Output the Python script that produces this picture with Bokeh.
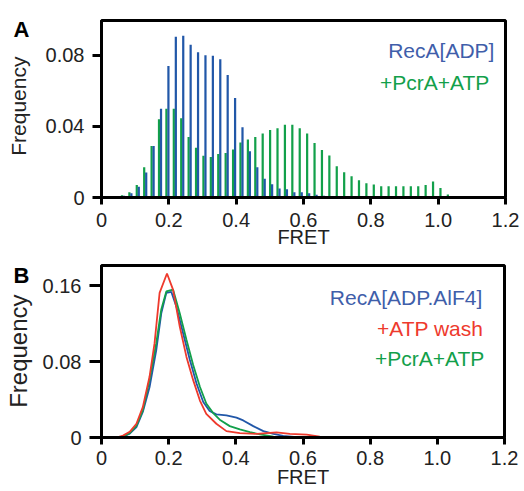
import math
from bokeh.plotting import figure
from bokeh.layouts import column, row
from bokeh.models import Label, FixedTicker, Range1d
from bokeh.embed import file_html
from bokeh.resources import INLINE

# ---------------- Panel A data (histogram) ----------------
bin_start = 0.0418
bin_step = 0.022
green_a = [0.0007, 0.0013, 0.003, 0.007, 0.017, 0.029, 0.044, 0.050, 0.050, 0.0446,
           0.034, 0.028, 0.0235, 0.0228, 0.0245, 0.025, 0.027, 0.031, 0.0327, 0.034,
           0.036, 0.038, 0.039, 0.041, 0.041, 0.039, 0.036, 0.0307, 0.0267, 0.0236,
           0.0176, 0.0142, 0.012, 0.0097, 0.008, 0.0073, 0.0064, 0.0064, 0.0064, 0.0064,
           0.0064, 0.0064, 0.007, 0.009, 0.0054, 0.0017, 0.0007, 0.0004]
blue_a = [0.0, 0.001, 0.0024, 0.006, 0.014, 0.029, 0.050, 0.074, 0.0905, 0.091,
          0.086, 0.0817, 0.080, 0.0798, 0.0778, 0.069, 0.056, 0.0396, 0.026, 0.017,
          0.0106, 0.0075, 0.005, 0.0047, 0.003, 0.003, 0.0024, 0.0015, 0.001, 0.0005,
          0, 0, 0, 0, 0, 0, 0, 0, 0, 0, 0, 0, 0, 0, 0, 0, 0, 0]
bin_centers = [round(bin_start + bin_step * k, 4) for k in range(len(green_a))]

# ---------------- Panel B data (curves) ----------------
blue_b_x = [0.0, 0.044, 0.064, 0.084, 0.104, 0.123, 0.143, 0.163, 0.178, 0.193, 0.208,
            0.223, 0.243, 0.263, 0.283, 0.303, 0.322, 0.342, 0.372, 0.402, 0.422, 0.452,
            0.482, 0.512, 0.541, 0.581, 0.65, 1.0]
blue_b_y = [0, 0, 0.001, 0.004, 0.011, 0.027, 0.053, 0.092, 0.131, 0.1525, 0.1535,
            0.138, 0.110, 0.082, 0.057, 0.0375, 0.028, 0.0244, 0.0234, 0.021, 0.018, 0.012,
            0.0067, 0.0039, 0.0018, 0.0004, 0, 0]
green_b_x = [0.0, 0.044, 0.064, 0.084, 0.104, 0.123, 0.143, 0.163, 0.178, 0.193, 0.213,
             0.233, 0.253, 0.273, 0.293, 0.312, 0.332, 0.352, 0.382, 0.412, 0.442, 0.472,
             0.512, 0.561, 0.65, 1.0]
green_b_y = [0, 0, 0.001, 0.0046, 0.0124, 0.0287, 0.0605, 0.0995, 0.135, 0.154, 0.156,
             0.131, 0.103, 0.0765, 0.0535, 0.0358, 0.026, 0.0188, 0.012, 0.0085, 0.0057,
             0.0032, 0.001, 0.0004, 0, 0]
red_b_x = [0.0, 0.044, 0.064, 0.084, 0.104, 0.123, 0.143, 0.158, 0.173, 0.195, 0.213,
           0.233, 0.253, 0.273, 0.293, 0.312, 0.342, 0.372, 0.412, 0.462, 0.521, 0.561,
           0.611, 0.65, 0.8, 1.0]
red_b_y = [0, 0, 0.002, 0.006, 0.0145, 0.032, 0.064, 0.0995, 0.1525, 0.173, 0.156,
           0.117, 0.085, 0.0605, 0.039, 0.025, 0.0145, 0.0067, 0.0046, 0.0039, 0.0053,
           0.0039, 0.003, 0.001, 0.0005, 0]

x_ticks = [0, 0.2, 0.4, 0.6, 0.8, 1.0, 1.2]
x_tick_labels = ["0", "0.2", "0.4", "0.6", "0.8", "1.0", "1.2"]
ya_ticks = [0, 0.04, 0.08]
ya_tick_labels = ["0", "0.04", "0.08"]
yb_ticks = [0, 0.08, 0.16]
yb_tick_labels = ["0", "0.08", "0.16"]

BLUE = "#2157a8"
GREEN = "#12a04a"
RED = "#ee3a2d"
BLUE_TXT = "#3f5eaa"
FONT = "Liberation Sans"
SIDE_W = 36


def style(p, yt, ytl, ytick_out):
    p.grid.visible = False
    p.outline_line_color = "black"
    p.outline_line_width = 3
    p.background_fill_color = "white"
    p.border_fill_color = "white"
    for ax in (p.xaxis[0], p.yaxis[0]):
        ax.axis_line_width = 3
        ax.major_tick_line_width = 3
        ax.minor_tick_line_color = None
        ax.major_tick_in = 0
        ax.major_label_text_font = FONT
        ax.major_label_text_font_size = "20px"
        ax.major_label_text_color = "#222222"
        ax.axis_label_text_font = FONT
        ax.axis_label_text_font_style = "normal"
        ax.axis_label_text_color = "#222222"
    p.xaxis.ticker = FixedTicker(ticks=x_ticks)
    p.xaxis.major_label_overrides = {t: l for t, l in zip(x_ticks, x_tick_labels)}
    p.yaxis.ticker = FixedTicker(ticks=yt)
    p.yaxis.major_label_overrides = {t: l for t, l in zip(yt, ytl)}
    p.xaxis.major_tick_out = 7
    p.yaxis.major_tick_out = ytick_out
    p.xaxis.axis_label = "FRET"
    p.xaxis.axis_label_text_font_size = "20px"
    p.xaxis.major_label_standoff = 8
    p.xaxis.axis_label_standoff = -4
    p.yaxis.major_label_standoff = 8


def side_panel(height, letter, letter_y, ylabel, ylabel_size, ylabel_x, ylabel_y):
    """Narrow strip at the left holding the panel letter and the rotated y-axis title.
    Coordinates are pixels measured from the strip's bottom-left corner."""
    s = figure(width=SIDE_W, height=height, output_backend="svg", toolbar_location=None,
               x_range=Range1d(0, SIDE_W), y_range=Range1d(0, height),
               x_axis_location=None, y_axis_location=None,
               min_border_left=0, min_border_right=0, min_border_top=0, min_border_bottom=0)
    s.grid.visible = False
    s.outline_line_color = None
    s.background_fill_color = "white"
    s.border_fill_color = "white"
    s.add_layout(Label(x=13, y=letter_y, text=letter, text_align="left",
                       text_baseline="alphabetic", text_font=FONT, text_font_size="22px",
                       text_font_style="bold", text_color="black"))
    s.add_layout(Label(x=ylabel_x, y=ylabel_y, text=ylabel, angle=math.pi / 2,
                       text_align="center", text_baseline="alphabetic", text_font=FONT,
                       text_font_size=ylabel_size, text_color="#222222"))
    return s


# ---------------- Figure A ----------------
pA = figure(width=520 - SIDE_W, height=250, output_backend="svg", toolbar_location=None,
            x_range=Range1d(0, 1.2), y_range=Range1d(0, 0.0996),
            min_border_left=101 - SIDE_W, min_border_right=15, min_border_top=20,
            min_border_bottom=52)
style(pA, ya_ticks, ya_tick_labels, 9)

green_x = [c - 0.003 for c in bin_centers]
blue_x = [c + 0.003 for c in bin_centers]
pA.vbar(x=green_x, top=green_a, width=0.0066, bottom=0, fill_color=GREEN, line_color=None)
pA.vbar(x=blue_x, top=blue_a, width=0.0066, bottom=0, fill_color=BLUE, line_color=None)

pA.add_layout(Label(x=1.167, y=0.0828, text="RecA[ADP]", text_align="right",
                    text_baseline="alphabetic", text_font=FONT, text_font_size="21px",
                    text_color=BLUE_TXT))
pA.add_layout(Label(x=1.152, y=0.0649, text="+PcrA+ATP", text_align="right",
                    text_baseline="alphabetic", text_font=FONT, text_font_size="21px",
                    text_color=GREEN))
sA = side_panel(250, "A", 237, "Frequency", "21px", 18, 129)

# ---------------- Figure B ----------------
pB = figure(width=520 - SIDE_W, height=241, output_backend="svg", toolbar_location=None,
            x_range=Range1d(0, 1.2), y_range=Range1d(0, 0.1814),
            min_border_left=101 - SIDE_W, min_border_right=16, min_border_top=15,
            min_border_bottom=54)
style(pB, yb_ticks, yb_tick_labels, 12)
pB.xaxis.major_label_standoff = 6
pB.xaxis.axis_label_standoff = -2

pB.line(blue_b_x, blue_b_y, line_color=BLUE, line_width=1.8)
pB.line(green_b_x, green_b_y, line_color=GREEN, line_width=1.8)
pB.line(red_b_x, red_b_y, line_color=RED, line_width=1.8)

pB.add_layout(Label(x=1.134, y=0.1474, text="RecA[ADP.AlF4]", text_align="right",
                    text_baseline="alphabetic", text_font=FONT, text_font_size="21px",
                    text_color=BLUE_TXT))
pB.add_layout(Label(x=1.137, y=0.1147, text="+ATP wash", text_align="right",
                    text_baseline="alphabetic", text_font=FONT, text_font_size="21px",
                    text_color=RED))
pB.add_layout(Label(x=1.14, y=0.0832, text="+PcrA+ATP", text_align="right",
                    text_baseline="alphabetic", text_font=FONT, text_font_size="21px",
                    text_color=GREEN))
sB = side_panel(241, "B", 227, "Frequency", "24px", 18, 121)

layout = column(row(sA, pA, spacing=0), row(sB, pB, spacing=0), spacing=0)
open("out.html", "w").write(file_html(layout, INLINE))
